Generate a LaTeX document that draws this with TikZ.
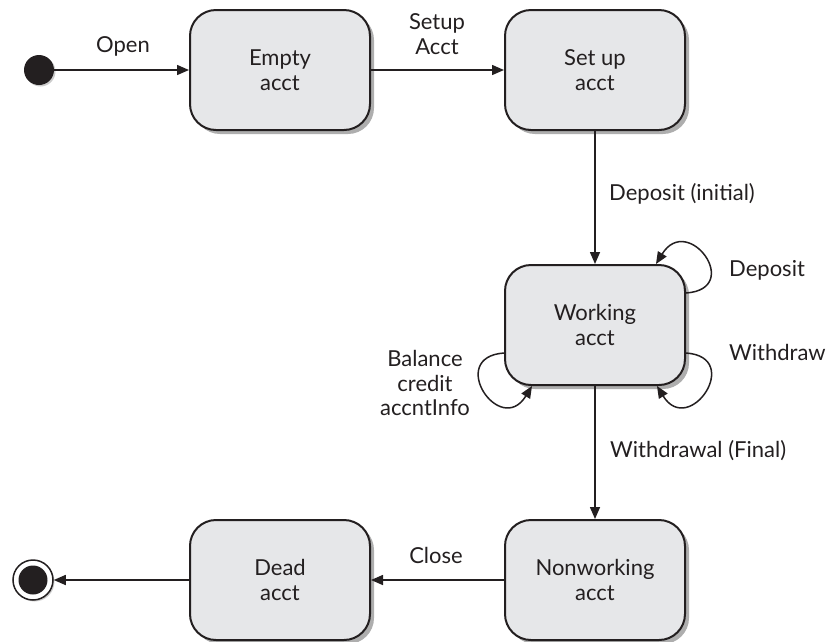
\documentclass[tikz,border=0pt]{standalone}
\usepackage{fontspec}
\setmainfont{Lato}
\usetikzlibrary{arrows.meta,shadows,calc}
\definecolor{boxfill}{HTML}{E6E7E9}
\definecolor{ink}{HTML}{231F20}
\begin{document}
\begin{tikzpicture}[x=1pt,y=-1pt,
  every node/.style={font=\fontsize{22}{24.5}\selectfont, text=ink},
  state/.style={draw=ink, line width=2pt, fill=boxfill, rounded corners=26pt,
    minimum width=180pt, minimum height=120pt, align=center,
    drop shadow={shadow xshift=4pt, shadow yshift=-4pt, fill=black!45, opacity=0.7}},
  conn/.style={draw=ink, line width=1.5pt, -{Triangle[length=12pt,width=10pt]}},
  lbl/.style={align=center, inner sep=0pt}]
\useasboundingbox (0,0) rectangle (828,641);
\node[circle, fill=ink, minimum size=30pt, inner sep=0pt,
  drop shadow={shadow xshift=1.5pt, shadow yshift=-1.5pt, fill=black!40}] (init) at (39,70) {};
\node[state] (empty) at (280,70) {Empty\\acct};
\node[state] (setup) at (595,70) {Set up\\acct};
\node[state] (work) at (595,325) {Working\\acct};
\node[state] (nonw) at (595,580) {Nonworking\\acct};
\node[state] (dead) at (280,580) {Dead\\acct};
\node[circle, draw=ink, line width=1.5pt, fill=white, minimum size=40pt, inner sep=0pt,
  drop shadow={shadow xshift=1.5pt, shadow yshift=-1.5pt, fill=black!40}] (final) at (33,580) {};
\node[circle, fill=ink, minimum size=29pt, inner sep=0pt] (finalin) at (33,580) {};

\draw[conn] (init) -- (empty);
\draw[conn] (empty) -- (setup);
\draw[conn] (setup) -- (work);
\draw[conn] (work) -- (nonw);
\draw[conn] (nonw) -- (dead);
\draw[conn] (dead) -- (final);

% self loops
\draw[conn] ($(work.east)+(0,-32)$) .. controls +(58,-4) and +(32,-52) .. ($(work.north)+(61,0)$);
\draw[conn] ($(work.east)+(0,28)$) .. controls +(58,4) and +(32,52) .. ($(work.south)+(62,0)$);
\draw[conn] ($(work.west)+(0,28)$) .. controls +(-58,4) and +(-32,52) .. ($(work.south)+(-63,0)$);

\node[lbl] (lopen) at (123,46) {Open};
\node[lbl] (lsetup) at (437,34) {Setup\\Acct};
\node[lbl, anchor=west] (ldepi) at (609,194) {Deposit (initial)};
\node[lbl, anchor=west] (ldep) at (729,270) {Deposit};
\node[lbl, anchor=west] (lwd) at (729,352) {Withdraw};
\node[lbl] (lbal) at (425,383) {Balance\\credit\\accntInfo};
\node[lbl, anchor=west] (lwdf) at (610,451) {Withdrawal (Final)};
\node[lbl] (lclose) at (436,555) {Close};
\end{tikzpicture}
\end{document}
